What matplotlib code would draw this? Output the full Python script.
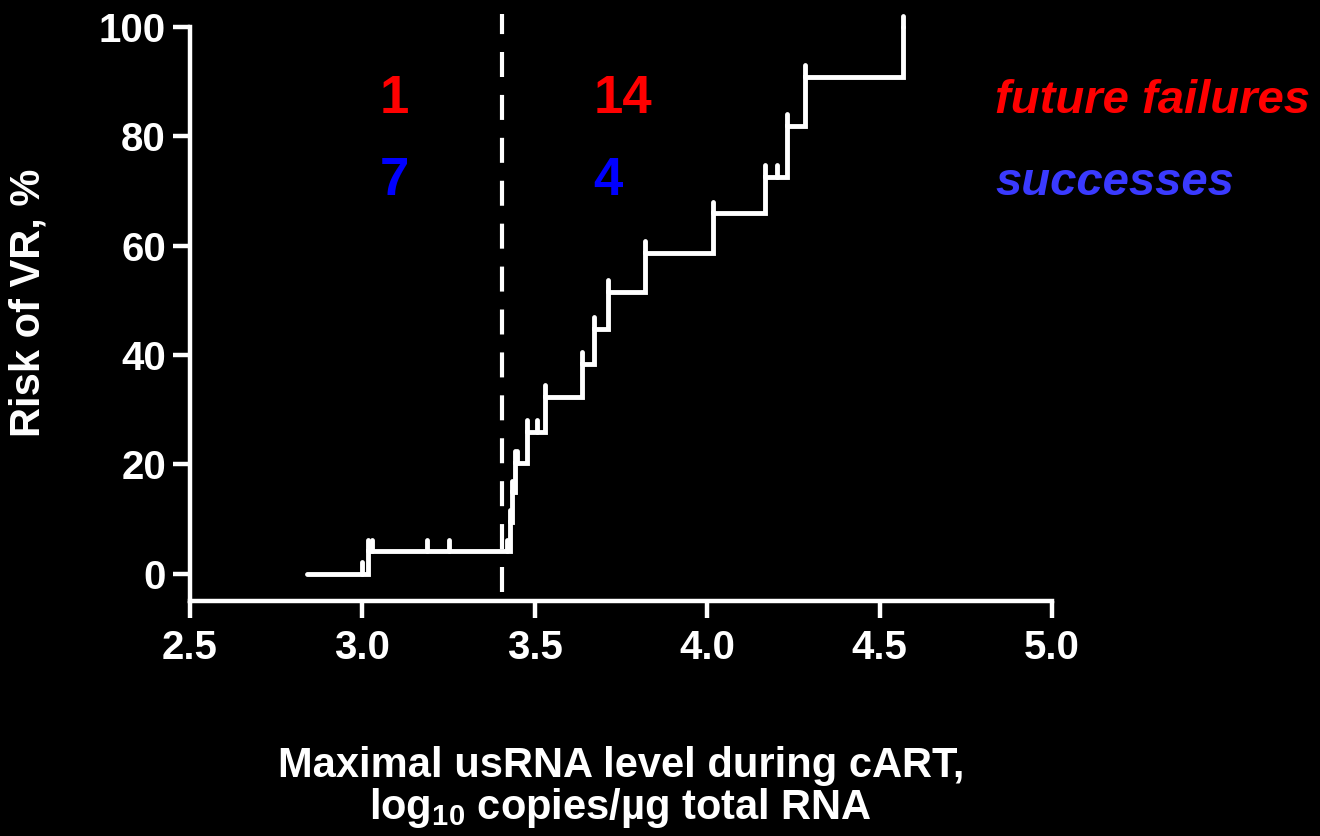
"""Cumulative risk of VR vs maximal usRNA level (KM failure curve)."""
import matplotlib
matplotlib.use('Agg')
import matplotlib.pyplot as plt
import numpy as np

plt.rcParams['font.family'] = ['Liberation Sans', 'DejaVu Sans']
plt.rcParams['font.weight'] = 'bold'
plt.rcParams['axes.labelweight'] = 'bold'
plt.rcParams['mathtext.fontset'] = 'custom'
plt.rcParams['mathtext.rm'] = 'Liberation Sans:bold'
plt.rcParams['mathtext.it'] = 'Liberation Sans:bold:italic'
plt.rcParams['mathtext.bf'] = 'Liberation Sans:bold'

# first observation, events (x) and cumulative risk (%) after each event
start_x = 2.84
event_x = [3.017, 3.429, 3.434, 3.443, 3.478, 3.530, 3.638, 3.672,
           3.713, 3.820, 4.017, 4.168, 4.232, 4.284, 4.568]
event_y = [4.1, 9.5, 14.9, 20.3, 26.0, 32.4, 38.4, 44.8,
           51.6, 58.7, 65.9, 72.6, 81.9, 90.9, 100.0]
# censored observations
censor_x = [3.00, 3.03, 3.189, 3.252, 3.42, 3.449, 3.507, 4.203]
censor_y = [0.0, 4.1, 4.1, 4.1, 4.1, 20.3, 26.0, 72.6]

cutoff = 3.406
fail_counts = ['1', '14']
succ_counts = ['7', '4']
count_x = [3.052, 3.670]

RED = '#FF0000'
BLUE = '#0000FF'
LBLUE = '#3A3AFF'
tick_h = 2.1
LW = 3.5

fig = plt.figure(figsize=(13.2, 8.36), dpi=100, facecolor='black')
ax = fig.add_axes([0.1436, 0.2811, 0.6534, 0.6866])
ax.set_facecolor('black')

xs = [start_x] + event_x
ys = [0.0] + event_y
ax.step(xs, ys, where='post', color='white', lw=LW,
        solid_joinstyle='miter', solid_capstyle='round', clip_on=False, zorder=3)
# tick at every step (overshoot) and censor marks
ax.vlines(event_x, event_y, np.array(event_y) + tick_h, color='white', lw=LW,
          capstyle='round', clip_on=False, zorder=3)
ax.vlines(censor_x, censor_y, np.array(censor_y) + tick_h, color='white', lw=LW,
          capstyle='round', clip_on=False, zorder=3)

# cut-off line
ax.plot([cutoff, cutoff], [-3.3, 102.4], color='white', lw=3.0,
        dashes=(6, 4.3), clip_on=False, zorder=2)

# counts
for cx, f, s in zip(count_x, fail_counts, succ_counts):
    ax.text(cx, 84.3, f, color=RED, fontsize=38, ha='left', va='baseline')
    ax.text(cx, 69.3, s, color=BLUE, fontsize=38, ha='left', va='baseline')
ax.text(4.835, 84.3, 'future failures', color=RED, fontsize=34,
        style='italic', ha='left', va='baseline')
ax.text(4.835, 69.3, 'successes', color=LBLUE, fontsize=34,
        style='italic', ha='left', va='baseline')

ax.set_xlim(2.5, 5.0)
ax.set_ylim(-5, 100)
ax.set_xticks([2.5, 3.0, 3.5, 4.0, 4.5, 5.0])
ax.set_xticklabels(['2.5', '3.0', '3.5', '4.0', '4.5', '5.0'])
ax.set_yticks([0, 20, 40, 60, 80, 100])

for side in ['top', 'right']:
    ax.spines[side].set_visible(False)
for side in ['left', 'bottom']:
    ax.spines[side].set_color('white')
    ax.spines[side].set_linewidth(3.2)
ax.tick_params(colors='white', labelsize=29, length=12, width=3.2)
ax.tick_params(axis='x', pad=8)
ax.tick_params(axis='y', pad=5)

ax.set_ylabel('Risk of VR, %', color='white', fontsize=30, fontweight='bold')
ax.yaxis.set_label_coords(-0.163, 0.52)
ax.set_xlabel('Maximal usRNA level during cART,\nlog$_{10}$ copies/µg total RNA',
              color='white', fontsize=30, fontweight='bold', linespacing=1.0)
ax.xaxis.set_label_coords(0.5, -0.252)
ax.xaxis.label.set_va('top')

fig.savefig('out.png', dpi=100, facecolor='black')
